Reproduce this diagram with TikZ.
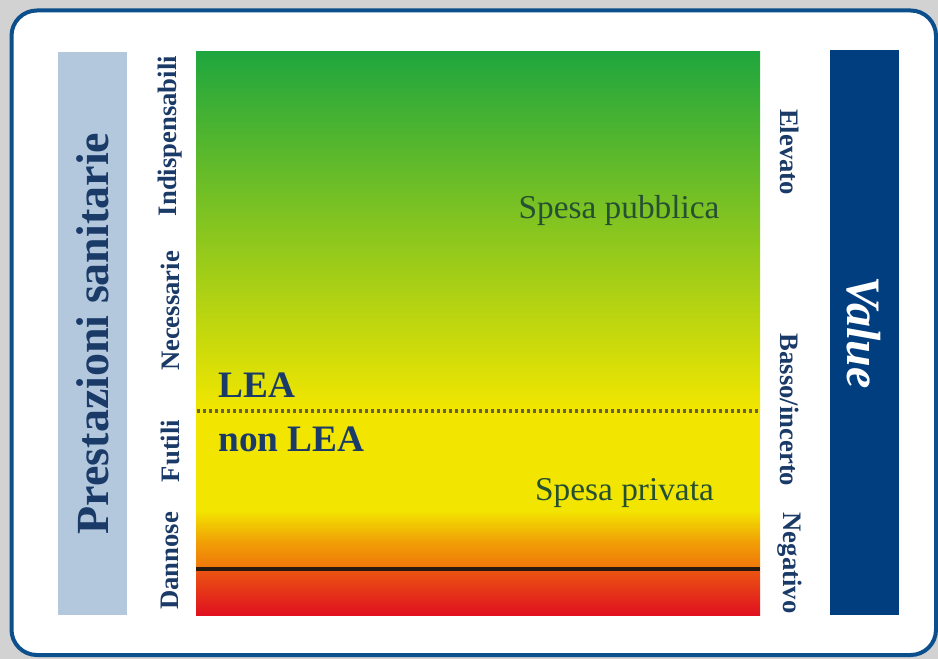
\documentclass[tikz,border=0pt]{standalone}
\usepackage{fontspec}
\setmainfont{Liberation Serif}
\usetikzlibrary{positioning,calc}
\definecolor{framblue}{RGB}{11,79,140}
\definecolor{navytext}{RGB}{26,58,104}
\definecolor{leftbar}{RGB}{179,199,221}
\definecolor{valueblue}{RGB}{0,62,128}
\definecolor{leagreen}{RGB}{31,166,62}
\definecolor{leayellow}{RGB}{242,230,0}
\definecolor{leaorange}{RGB}{240,118,10}
\definecolor{leared}{RGB}{224,16,32}
\definecolor{spesatext}{RGB}{38,80,50}

\begin{document}
\begin{tikzpicture}[
    x=0.75pt, y=-0.75pt,
    bar/.style={rectangle, minimum width=51.75pt, inner sep=0pt},
    level/.style={font=\fontsize{20}{22}\selectfont\bfseries, text=navytext, inner sep=0pt},
    zone/.style={font=\fontsize{28}{30}\selectfont\bfseries, text=navytext, inner sep=0pt, anchor=base west},
    spesa/.style={font=\fontsize{25}{27}\selectfont, text=spesatext, inner sep=0pt, anchor=base}
]
\useasboundingbox (0,0) rectangle (938,659);
\fill[gray!35] (0,0) rectangle (938,659);
\draw[framblue, line width=3pt, fill=white, rounded corners=19pt] (11.5,10.5) rectangle (936,655);

% colour scale
\shade[top color=leagreen, bottom color=leayellow] (196,52) rectangle (760,410.5);
\fill[leayellow] (196,410) rectangle (760,510.5);
\shade[top color=leayellow, bottom color=leaorange!60!leayellow] (196,510) rectangle (760,540.5);
\shade[top color=leaorange!60!leayellow, bottom color=leaorange] (196,540) rectangle (760,568);
\shade[top color=leaorange!70!leared, bottom color=leared] (196,568) rectangle (760,615);
\coordinate (scale w) at (196,569);
\coordinate (scale e) at (760,569);
\draw[black!80!brown, line width=2.3pt] (scale w) -- (scale e);
\coordinate (lea w) at (197,411);
\coordinate (lea e) at (760,411);
\draw[black!70!yellow, line width=2.4pt, dash pattern=on 2.2pt off 2.3pt] (lea w) -- (lea e);

% side bars
\node[bar, fill=leftbar, minimum height=422.25pt] (prest) at (92.5,333.5) {};
\node[rotate=90, font=\fontsize{34.5}{36}\selectfont\bfseries, text=navytext] at (prest.center) {Prestazioni sanitarie};
\node[bar, fill=valueblue, minimum height=423.75pt] (value) at (864,332.5) {};
\node[rotate=-90, font=\fontsize{36}{38}\selectfont\bfseries\itshape, text=white] at (value.center) {Value};

% levels left
\node[level, rotate=90] (indisp) at (170,136) {Indispensabili};
\node[level, rotate=90] (necess) at (170,311) {Necessarie};
\node[level, rotate=90] (futili) at (170,451) {Futili};
\node[level, rotate=90] (dann) at (170,561) {Dannose};

% levels right
\node[level, rotate=-90] (elev) at (790,152) {Elevato};
\node[level, rotate=-90] (basso) at (790,410) {Basso/incerto};
\node[level, rotate=-90] (negat) at (790,563) {Negativo};

\node[zone] (lea) at (218,397) {LEA};
\node[zone] (nonlea) at (218,451) {non LEA};
\node[spesa] (pubbl) at (619,219) {Spesa pubblica};
\node[spesa] (priv) at (624.5,500) {Spesa privata};

\end{tikzpicture}
\end{document}
